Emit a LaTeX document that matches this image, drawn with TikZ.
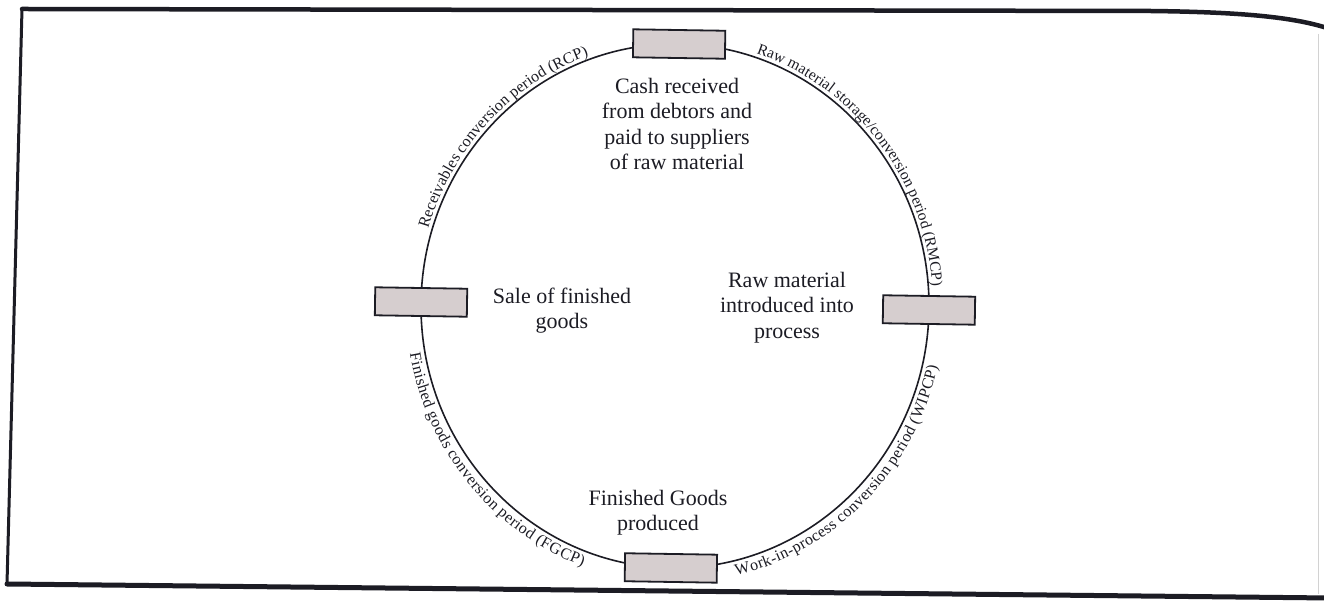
\documentclass[tikz,border=0pt]{standalone}
\usepackage{fontspec}
\setmainfont{Liberation Serif}
\usetikzlibrary{decorations.text}
\definecolor{boxfill}{RGB}{214,206,207}
\definecolor{ink}{RGB}{28,28,36}
\begin{document}
\begin{tikzpicture}[x=1pt,y=1pt,
  cbox/.style={draw=ink, line width=1.8pt, fill=boxfill, minimum width=92pt, minimum height=28pt, inner sep=0pt, rotate=-0.9},
  mtext/.style={align=center, font=\fontsize{22}{25.5}\selectfont, text=ink},
  ring/.style={draw=ink, line width=1.6pt},
  framel/.style={draw=ink, line cap=round},
]
\useasboundingbox (0,0) rectangle (1324,612);
\fill[white] (0,0) rectangle (1324,612);
% page frame
\draw[framel, line width=3pt] (22,603) -- (7,28);
\draw[framel, line width=4.5pt] (22,603) -- (1150,601) .. controls (1240,600) and (1295,595) .. (1330,583);
\draw[framel, line width=5pt] (7,28) -- (1330,14);
\draw[gray!35, line width=0.8pt] (1318,578) -- (1318,18);
% cycle
\begin{scope}[shift={(675,306)}, rotate=-0.9]
  \draw[ring] (0,0) ellipse [x radius=254, y radius=262];
  \node[cbox] (cashbox) at (90:254 and 262) {};
  \node[cbox] (salebox) at (180:254 and 262) {};
  \node[cbox] (rawbox) at (0:254 and 262) {};
  \node[cbox] (fgbox) at (270:254 and 262) {};
  \path[decorate, decoration={text along path, text align=center, raise=4pt,
     text={|\fontsize{16}{16}\selectfont\color{ink}|Receivables conversion period (RCP)}}]
     (180:254 and 262) arc[start angle=180, end angle=94, x radius=254, y radius=262];
  \path[decorate, decoration={text along path, text align=center, raise=4pt,
     text={|\fontsize{15.5}{16}\selectfont\color{ink}|Raw material storage/conversion period (RMCP)}}]
     (83:254 and 262) arc[start angle=83, end angle=-5, x radius=254, y radius=262];
  \path[decorate, decoration={text along path, text align=center, raise=-15pt,
     text={|\fontsize{16}{16}\selectfont\color{ink}|Work-in-process conversion period (WIPCP)}}]
     (-87:254 and 262) arc[start angle=-87, end angle=-1, x radius=254, y radius=262];
  \path[decorate, decoration={text along path, text align=center, raise=-15pt,
     text={|\fontsize{16}{16}\selectfont\color{ink}|Finished goods conversion period (FGCP)}}]
     (178:254 and 262) arc[start angle=178, end angle=264, x radius=254, y radius=262];
\end{scope}
% event texts
\node[mtext] (cashtxt) at (677,488) {Cash received\\from debtors and\\paid to suppliers\\of raw material};
\node[mtext] (saletxt) at (562,301.5) {Sale of finished\\goods};
\node[mtext] (rawtxt) at (787,304.5) {Raw material\\introduced into\\process};
\node[mtext] (fgtxt) at (658,99.5) {Finished Goods\\produced};
\end{tikzpicture}
\end{document}
